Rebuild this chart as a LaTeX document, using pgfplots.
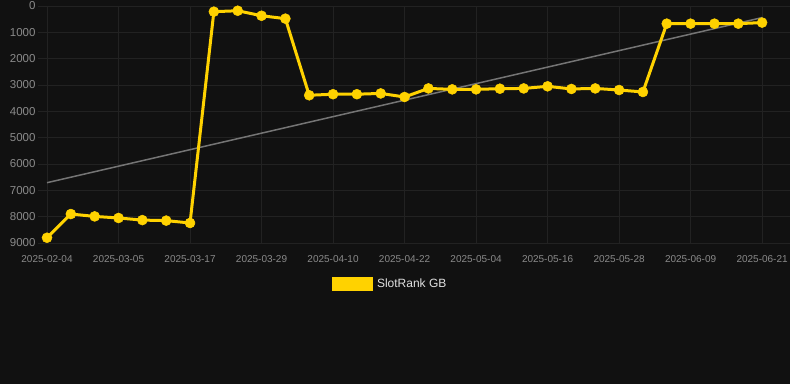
\documentclass[border=0pt]{standalone}
\usepackage{fontspec}
\setmainfont{Liberation Sans}
\usepackage{xcolor}
\usepackage{pgfplots}
\pgfplotsset{compat=1.18}
\definecolor{bg}{HTML}{111111}
\definecolor{gridc}{HTML}{222222}
\definecolor{tickc}{HTML}{8A8A8A}
\definecolor{gold}{RGB}{255,210,0}
\definecolor{trend}{HTML}{757575}
\definecolor{legt}{HTML}{E0E0E0}
\pagecolor{bg}
\begin{document}
\begin{tikzpicture}
\useasboundingbox[fill=bg] (-38pt,6pt) rectangle (752pt,-378pt);
\begin{axis}[
  at={(0pt,0pt)}, anchor=north west,
  scale only axis, width=752pt, height=237pt,
  xmin=-0.378, xmax=31.17,
  ymin=0, ymax=9000, y dir=reverse,
  axis line style={draw=none},
  major tick length=0pt,
  xtick={0,3,...,30},
  xticklabels={2025-02-04,2025-03-05,2025-03-17,2025-03-29,2025-04-10,2025-04-22,2025-05-04,2025-05-16,2025-05-28,2025-06-09,2025-06-21},
  ytick={0,1000,...,9000},
  grid=major,
  major grid style={gridc, line width=0.7pt},
  /pgf/number format/assume math mode=true,
  /pgf/number format/1000 sep={},
  yticklabel style={font=\fontsize{11.5}{13}\selectfont, text=tickc, xshift=1pt},
  xticklabel style={font=\fontsize{10}{12}\selectfont, text=tickc},
  xticklabel shift=9pt,
  legend style={at={(0.391,-0.173)}, anchor=west, draw=none, fill=none,
    text=legt, font=\fontsize{12}{14}\selectfont, inner sep=0pt, outer sep=0pt,
    nodes={inner sep=0pt}},
  legend image code/.code={\fill[gold] (0pt,-5.5pt) rectangle (37.5pt,5.5pt); \path (42pt,0pt);},
  clip=false,
]
\addplot[trend, line width=1.5pt, forget plot] coordinates {(0,6710) (30,440)};
\addplot[gold, line width=3pt, mark=*, mark size=5pt, mark options={fill=gold, draw=gold, line width=0.5pt, solid}] coordinates {
(0,8800) (1,7900) (2,7990) (3,8050) (4,8130) (5,8150) (6,8240)
(7,215) (8,180) (9,370) (10,480)
(11,3390) (12,3350) (13,3350) (14,3320) (15,3455)
(16,3130) (17,3165) (18,3165) (19,3140) (20,3130) (21,3050) (22,3150) (23,3130) (24,3190) (25,3265)
(26,670) (27,670) (28,670) (29,670) (30,630)
};
\addlegendentry{SlotRank GB}
\end{axis}
\end{tikzpicture}
\end{document}
